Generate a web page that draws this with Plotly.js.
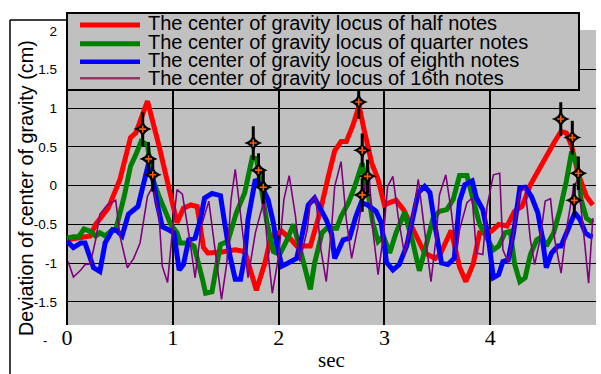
<!DOCTYPE html>
<html><head><meta charset="utf-8">
<script src="https://cdn.plot.ly/plotly-3.0.1.min.js"></script>
<style>html,body{margin:0;padding:0;background:#fff;}#chart{width:601px;height:374px;}</style>
</head><body><div id="chart"></div>
<script>
// ---- data ----
const seriesNames = [
  'The center of gravity locus of half notes',
  'The center of gravity locus of quarter notes',
  'The center of gravity locus of eighth notes',
  'The center of gravity locus of 16th notes'
];
const xTitle = 'sec';
const yTitle = 'Deviation of center of gravity (cm)';
const halfT = [0.00,0.22,0.27,0.39,0.50,0.60,0.65,0.76,0.87,0.96,1.04,1.10,1.17,1.23,1.29,1.33,1.45,1.59,1.68,1.79,1.87,1.93,2.03,2.12,2.17,2.30,2.39,2.47,2.53,2.59,2.64,2.70,2.76,2.81,2.88,2.94,3.00,3.05,3.11,3.18,3.29,3.38,3.48,3.53,3.63,3.71,3.77,3.84,3.90,3.97,4.01,4.08,4.16,4.23,4.30,4.38,4.47,4.57,4.61,4.67,4.72,4.77,4.83,4.91,4.97];
const halfV = [-0.70,-0.65,-0.50,-0.29,0.08,0.62,0.68,1.09,0.51,-0.01,-0.48,-0.29,-0.25,-0.27,-0.80,-0.87,-0.86,-0.83,-0.85,-1.35,-1.00,-0.65,-0.59,-0.70,-0.78,-0.78,-0.35,0.12,0.45,0.57,0.57,0.77,1.03,0.71,0.29,0.08,-0.25,-0.22,-0.19,-0.31,-0.61,-0.87,-0.94,-0.88,-0.58,-1.05,-1.24,-1.01,-0.61,-0.61,-0.59,-0.50,-0.52,-0.33,-0.27,0.01,0.23,0.49,0.57,0.70,0.68,0.51,0.16,-0.14,-0.25];

const quarterT = [0.00,0.06,0.11,0.16,0.22,0.27,0.31,0.36,0.43,0.46,0.54,0.60,0.65,0.70,0.76,0.80,0.87,0.91,0.98,1.04,1.07,1.15,1.20,1.28,1.31,1.37,1.45,1.52,1.60,1.68,1.75,1.79,1.84,1.89,1.95,2.01,2.08,2.14,2.22,2.30,2.34,2.41,2.47,2.50,2.55,2.59,2.66,2.72,2.79,2.84,2.89,2.94,2.99,3.05,3.11,3.19,3.27,3.33,3.40,3.46,3.52,3.59,3.65,3.71,3.78,3.84,3.90,3.97,4.03,4.08,4.14,4.19,4.23,4.28,4.33,4.38,4.44,4.49,4.53,4.60,4.66,4.72,4.77,4.82,4.86,4.91,4.97];
const quarterV = [-0.68,-0.66,-0.66,-0.56,-0.59,-0.65,-0.61,-0.65,-0.57,-0.57,-0.14,0.25,0.40,0.57,0.53,0.12,-0.14,-0.27,-0.50,-0.61,-0.74,-0.74,-0.78,-1.21,-1.39,-1.37,-0.76,-0.72,-0.35,-0.09,0.36,0.35,-0.09,-0.48,-0.85,-0.89,-0.70,-0.50,-0.91,-1.34,-1.00,-0.61,-0.53,-0.55,-0.55,-0.40,-0.22,-0.01,0.29,-0.05,-0.48,-0.72,-0.65,-0.87,-0.61,-0.35,-0.74,-1.10,-0.74,-0.42,-0.33,-0.31,-0.18,0.13,0.13,-0.18,-0.50,-0.68,-0.83,-0.78,-0.61,-0.59,-1.01,-1.24,-1.19,-0.89,-0.70,-0.66,-0.78,-0.61,-0.31,0.06,0.44,0.27,-0.18,-0.42,-0.48];

const eighthT = [0.00,0.06,0.13,0.17,0.25,0.31,0.36,0.43,0.47,0.52,0.58,0.67,0.76,0.80,0.85,0.90,0.96,1.01,1.06,1.10,1.15,1.21,1.26,1.30,1.37,1.45,1.49,1.54,1.59,1.64,1.68,1.71,1.78,1.84,1.90,1.95,1.98,2.03,2.09,2.17,2.22,2.28,2.34,2.39,2.45,2.50,2.53,2.61,2.67,2.73,2.78,2.84,2.92,2.97,3.02,3.08,3.14,3.21,3.27,3.32,3.38,3.43,3.48,3.54,3.60,3.66,3.71,3.76,3.83,3.87,3.93,3.98,4.03,4.08,4.12,4.17,4.22,4.28,4.33,4.39,4.45,4.49,4.53,4.58,4.64,4.67,4.74,4.80,4.85,4.90,4.94,4.97];
const eighthV = [-0.72,-0.80,-0.74,-0.74,-1.06,-1.11,-0.74,-0.57,-0.58,-0.65,-0.37,-0.27,0.23,0.18,-0.22,-0.53,-0.57,-0.61,-1.09,-1.02,-0.70,-0.68,-0.44,-0.16,-0.10,-0.13,-0.48,-0.91,-1.21,-1.21,-0.91,-0.44,0.08,-0.01,-0.18,-0.48,-0.74,-1.04,-1.00,-0.94,-0.65,-0.25,-0.16,-0.29,-0.44,-0.62,-0.94,-0.70,-0.68,-0.40,-0.22,-0.25,-0.33,-0.48,-0.99,-1.09,-1.02,-0.78,-0.40,-0.09,-0.01,-0.09,-0.53,-1.00,-1.02,-0.94,-0.20,0.01,0.06,-0.16,-0.31,-0.65,-1.19,-1.15,-0.98,-0.96,-0.61,-0.03,-0.02,-0.14,-0.35,-0.65,-1.06,-0.87,-0.78,-0.78,-0.55,-0.35,-0.44,-0.61,-0.65,-0.66];

const sixteenthT = [0.01,0.06,0.13,0.17,0.22,0.27,0.31,0.38,0.46,0.50,0.57,0.63,0.69,0.76,0.81,0.87,0.90,0.95,1.00,1.04,1.09,1.16,1.21,1.27,1.34,1.46,1.51,1.55,1.59,1.65,1.71,1.78,1.86,1.90,1.94,2.00,2.05,2.10,2.16,2.20,2.27,2.30,2.35,2.40,2.45,2.50,2.53,2.59,2.64,2.69,2.75,2.81,2.85,2.89,2.94,2.99,3.03,3.08,3.13,3.19,3.24,3.29,3.32,3.37,3.44,3.49,3.52,3.58,3.63,3.68,3.71,3.78,3.83,3.87,3.93,3.97,4.01,4.03,4.09,4.12,4.17,4.23,4.28,4.33,4.38,4.42,4.47,4.52,4.57,4.61,4.67,4.72,4.79,4.83,4.89,4.93,4.97];
const sixteenthV = [-0.98,-1.18,-1.09,-1.02,-1.01,-0.70,-0.37,-0.25,-0.19,-0.65,-1.06,-0.94,-0.74,-0.14,-0.01,-0.40,-1.04,-1.25,-0.53,-0.05,-0.11,-0.70,-1.19,-0.52,-0.20,-1.47,-1.00,-0.18,0.21,-0.48,-1.19,-0.61,-0.20,-0.87,-1.39,-0.91,-0.18,0.13,-0.40,-0.98,-0.57,-0.22,-0.14,-0.83,-1.24,-0.55,-0.01,0.31,-0.44,-0.94,-0.53,-0.05,0.25,-0.57,-1.15,-0.65,-0.01,0.12,-0.40,-0.89,-0.57,-0.22,0.08,-0.48,-1.24,-0.65,-0.12,0.14,-0.31,-0.89,-0.57,-0.22,-0.16,-0.87,-0.89,-0.27,0.03,0.14,0.16,-0.83,-0.99,-0.53,-0.09,-0.03,-0.70,-1.02,-0.70,-0.20,-0.17,-0.70,-1.13,-0.57,-0.01,0.08,-0.70,-1.26,-0.42];

const markT = [0.715,0.77,0.81,1.76,1.81,1.855,2.757,2.79,2.84,2.79,4.667,4.776,4.833,4.795];
const markV = [0.73,0.345,0.14,0.55,0.20,-0.02,1.08,0.456,0.12,-0.12,0.86,0.62,0.16,-0.19];

const xTickVals = [0,1,2,3,4,5];
const xTickText = ['0','1','2','3','4','5'];
const yTickVals = [-1.5,-1,-0.5,0,0.5,1,1.5,2];
const yTickText = ['-1.5','-1','-0.5','0','0.5','1','1.5','2'];

// ---- styles ----
const lineColors = ['#ff0000','#008000','#0000ff','#800080'];
const legendColors = ['#ff0000','#008000','#0000ff','#993366'];
const lineWidths = [5,5,5,1.6];
const sans = 'Liberation Sans, Arial, sans-serif';
const serif = 'Liberation Serif, Times New Roman, serif';

const W = 601, H = 374, M = {l:66, r:5, t:30, b:49};
const pw = W - M.l - M.r, ph = H - M.t - M.b;
const px = X => (X - M.l) / pw;
const py = Y => (H - M.b - Y) / ph;

const seriesT = [halfT, quarterT, eighthT, sixteenthT];
const seriesV = [halfV, quarterV, eighthV, sixteenthV];

const traces = seriesT.map((t, i) => ({
  type: 'scatter', mode: 'lines', name: seriesNames[i],
  x: t, y: seriesV[i],
  line: {color: lineColors[i], width: lineWidths[i]},
  showlegend: false, hoverinfo: 'skip'
}));
traces.push({type:'scatter', mode:'markers', x: markT, y: markV, showlegend:false, hoverinfo:'skip',
  marker:{symbol:'line-ns', size:24, line:{color:'#000', width:3}}});
traces.push({type:'scatter', mode:'markers', x: markT, y: markV, showlegend:false, hoverinfo:'skip',
  marker:{symbol:'star-diamond', size:13, color:'#000', line:{width:0}}});
traces.push({type:'scatter', mode:'markers', x: markT, y: markV, showlegend:false, hoverinfo:'skip',
  marker:{symbol:'cross-thin', size:5, line:{color:'#ff5a00', width:1.6}}});

// legend (drawn as shapes and text)
const legRows = [22.5, 41.5, 60, 78.5];
const legLineY = [25, 43.7, 61.7, 78.3];
const legLineW = [5, 5, 4.5, 2.5];
const shapes = [
  {type:'line', xref:'paper', yref:'paper', x0:px(10), x1:px(10), y0:py(20), y1:py(380), line:{color:'#000', width:1.5}},
  {type:'line', xref:'paper', yref:'paper', x0:px(10), x1:px(67), y0:py(20), y1:py(20), line:{color:'#000', width:1.5}},
  {type:'rect', xref:'paper', yref:'paper', x0:px(67), x1:px(579), y0:py(90), y1:py(13), fillcolor:'#c0c0c0', line:{color:'#000', width:2}}
];
legLineY.forEach((y, i) => shapes.push({type:'line', xref:'paper', yref:'paper', x0:px(80), x1:px(140), y0:py(y), y1:py(y), line:{color:legendColors[i], width:legLineW[i]}}));
const annotations = seriesNames.map((n, i) => ({
  xref:'paper', yref:'paper', x:px(146), y:py(legRows[i]), xanchor:'left', yanchor:'middle',
  text:n, showarrow:false, font:{family:sans, size:20, color:'#000'}
}));
annotations.push({xref:'paper', yref:'paper', x:px(45), y:py(340.5), xanchor:'center', yanchor:'middle', text:'-', showarrow:false, font:{family:sans, size:13, color:'#000'}});
annotations.push({xref:'paper', yref:'paper', x:px(26), y:py(188), xanchor:'center', yanchor:'middle', textangle:-90,
  text:yTitle, showarrow:false, font:{family:sans, size:19.8, color:'#000'}});
annotations.push({xref:'paper', yref:'paper', x:px(331), y:py(360), xanchor:'center', yanchor:'middle',
  text:xTitle, showarrow:false, font:{family:serif, size:21, color:'#000'}});

const layout = {
  width: W, height: H, margin: M,
  paper_bgcolor:'#ffffff', plot_bgcolor:'#c0c0c0',
  showlegend:false,
  xaxis:{range:[-0.01,5.0], tickvals:xTickVals, ticktext:xTickText, showgrid:true, gridcolor:'#000', gridwidth:2,
    zeroline:false, showline:false, ticks:'', ticklabelstandoff:-3, tickfont:{family:serif, size:22, color:'#000'}},
  yaxis:{range:[-1.80,2.01], tickvals:yTickVals, ticktext:yTickText, showgrid:true, gridcolor:'#000', gridwidth:1,
    zeroline:false, showline:false, ticks:'', ticklabelstandoff:8, tickfont:{family:sans, size:13.5, color:'#000'}},
  shapes: shapes, annotations: annotations
};
Plotly.newPlot('chart', traces, layout, {displayModeBar:false, staticPlot:true});
</script></body></html>
